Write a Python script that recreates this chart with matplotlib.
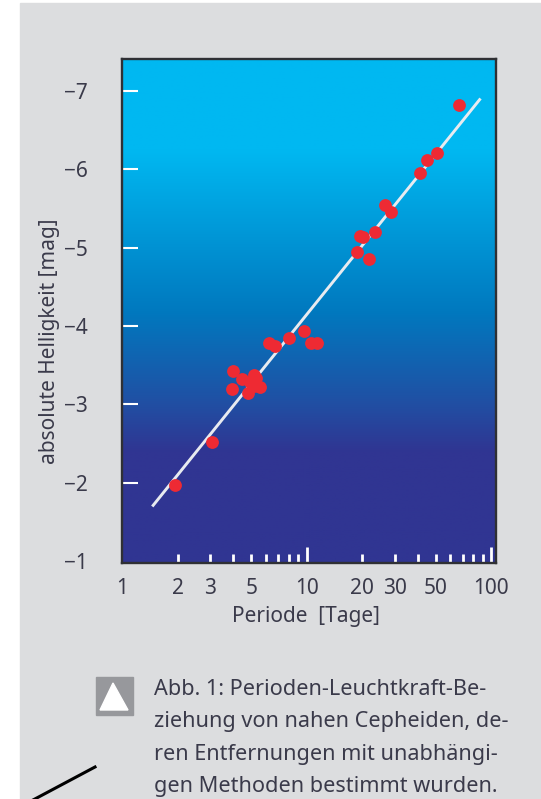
import numpy as np
import matplotlib
matplotlib.use('Agg')
import matplotlib.pyplot as plt
from matplotlib.colors import LinearSegmentedColormap
from matplotlib.lines import Line2D
from matplotlib.patches import Polygon, Rectangle

W, H = 541, 799

periods = [67.1, 51, 44.6, 41.2, 26.6, 28.6, 23.3, 19.5, 20.2, 18.8, 21.6, 9.65, 7.97, 6.21, 6.72, 10.5, 11.3,
           3.98, 4.45, 5.15, 5.33, 4.94, 5.55, 3.93, 4.8, 5.15, 3.07, 1.94]
mags = [-6.82, -6.21, -6.12, -5.95, -5.55, -5.46, -5.20, -5.15, -5.13, -4.95, -4.85, -3.94, -3.85, -3.78, -3.75,
        -3.78, -3.78, -3.42, -3.32, -3.37, -3.33, -3.28, -3.22, -3.19, -3.15, -3.24, -2.52, -1.97]
fit_p = [1.47, 86.4]
fit_m = [-1.71, -6.89]

x_major = [1, 10, 100]
x_major_labels = ['1', '10', '100']
x_minor = [2, 3, 4, 5, 6, 7, 8, 9, 20, 30, 40, 50, 60, 70, 80, 90]
x_minor_labels = ['2', '3', '', '5', '', '', '', '', '20', '30', '', '50', '', '', '', '']
y_ticks = [-7, -6, -5, -4, -3, -2, -1]

caption = ['Abb. 1: Perioden-Leuchtkraft-Be-',
           'ziehung von nahen Cepheiden, de-',
           'ren Entfernungen mit unabhängi-',
           'gen Methoden bestimmt wurden.']

plt.rcParams['font.family'] = ['Noto Sans', 'DejaVu Sans']
TEXT = '#3a3a4a'


def fx(px):
    return px / W


def fy(px):
    return 1 - px / H


fig = plt.figure(figsize=(W / 100, H / 100), dpi=100, facecolor='white')

# grey page panel, square icon and the stray black stroke
fig.patches.append(Rectangle((fx(20), 0), 1 - fx(20), fy(3), transform=fig.transFigure, color='#dcdddf', zorder=-5))
fig.patches.append(Rectangle((fx(96), fy(715)), 37 / W, 38 / H, transform=fig.transFigure, color='#97989c'))
fig.patches.append(Polygon([(fx(113), fy(683)), (fx(100), fy(710)), (fx(128), fy(710))],
                           transform=fig.transFigure, color='white'))
fig.lines.append(Line2D([fx(95), fx(33)], [fy(767), fy(800)], transform=fig.transFigure, color='black', lw=2.2))

ax = fig.add_axes([fx(122.3), fy(563.3), (495.7 - 122.3) / W, (563.3 - 59.3) / H])

cmap = LinearSegmentedColormap.from_list('sky', [(0, '#00b8f1'), (0.18, '#00b8f1'), (0.5, '#0079bf'),
                                                 (0.68, '#2050a4'), (0.78, '#303592'), (1, '#303592')])
ax.imshow(np.linspace(0, 1, 256).reshape(-1, 1), cmap=cmap, extent=(0, 1, 0, 1), transform=ax.transAxes,
          aspect='auto', zorder=0)

ax.plot(fit_p, fit_m, color='#e8ebf0', lw=2.1, zorder=2)
ax.scatter(periods, mags, s=85, color='#ee2a33', linewidths=0, zorder=3)

ax.set_xscale('log')
ax.set_xlim(1, 105.6)
ax.set_ylim(-0.97, -7.405)

ax.set_xticks(x_major, x_major_labels)
ax.set_xticks(x_minor, x_minor_labels, minor=True)
ax.set_yticks(y_ticks, ['\u2212%d' % abs(v) for v in y_ticks])
ax.yaxis.get_major_ticks()[-1].tick1line.set_visible(False)
ax.xaxis.get_major_ticks()[0].tick1line.set_visible(False)

ax.tick_params(axis='x', which='major', direction='in', length=11.5, width=2, color='white', pad=10.5,
               labelsize=15, labelcolor=TEXT)
ax.tick_params(axis='x', which='minor', direction='in', length=6.5, width=2, color='white', pad=10.5,
               labelsize=15, labelcolor=TEXT)
ax.tick_params(axis='y', direction='in', length=11.5, width=1.5, color='white', pad=25,
               labelsize=15, labelcolor=TEXT)

for s in ax.spines.values():
    s.set_color('#2f3034')
    s.set_linewidth(1.7)

fig.text(fx(306), fy(622), 'Periode  [Tage]', fontsize=15, color=TEXT, ha='center', va='baseline')
fig.text(fx(50), fy(341), 'absolute Helligkeit [mag]', fontsize=15, color=TEXT, rotation=90, ha='center', va='center')

for i, line in enumerate(caption):
    fig.text(fx(154), fy(695 + i * 32.3), line, fontsize=15.6, color=TEXT, ha='left', va='baseline')

fig.savefig('out.png', dpi=100)
